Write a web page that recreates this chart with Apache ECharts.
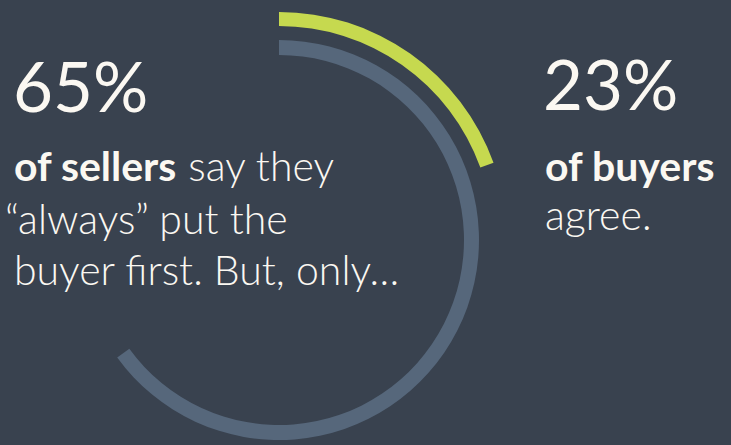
<!DOCTYPE html>
<html>
<head>
<meta charset="utf-8">
<script src="https://cdn.jsdelivr.net/npm/echarts@6/dist/echarts.min.js"></script>
<style>
html,body{margin:0;padding:0;background:#39424f;}
#chart{width:731px;height:445px;}
</style>
</head>
<body>
<div id="chart"></div>
<script>
// ---- data ----
var groups = ['sellers', 'buyers'];
var statLabels = ['65%', '23%'];
var arcShare = [65, 19.5];          // share of the full circle that each arc spans, as drawn
var leftLines = ['of sellers', ' say they', '\u201Calways\u201D put the', 'buyer first. But, only\u2026'];
var rightLines = ['of buyers', 'agree.'];

var BG = '#39424f', GREY = '#56677b', GREEN = '#c6d94f', TXT = '#fbf8f2';
var FONT = 'Lato, "Open Sans", sans-serif';
var BIG = 69, MID = 41;

var chart = echarts.init(document.getElementById('chart'), null, {renderer: 'svg'});

function arc(name, value, radius, color) {
  return {
    type: 'pie', name: name, center: [279, 240], radius: radius,
    startAngle: 90, clockwise: true, silent: true,
    label: {show: false}, labelLine: {show: false},
    emphasis: {disabled: true},
    itemStyle: {borderWidth: 0},
    animation: false,
    data: [
      {value: value, name: name, itemStyle: {color: color}},
      {value: 100 - value, name: 'rest', itemStyle: {color: 'transparent'}}
    ]
  };
}

function txt(x, y, text, size, weight, rich) {
  var s = {x: x, y: y, text: text, fill: TXT, font: weight + ' ' + size + 'px ' + FONT,
           verticalAlign: 'middle', align: 'left'};
  if (rich) s.rich = rich;
  return {type: 'text', style: s, silent: true};
}

var mixRich = {
  b: {fontFamily: FONT, fontSize: MID, fontWeight: 700, color: TXT},
  l: {fontFamily: FONT, fontSize: MID, fontWeight: 300, color: TXT}
};

chart.setOption({
  backgroundColor: BG,
  series: [
    arc(groups[0], arcShare[0], [185, 200], GREY),
    arc(groups[1], arcShare[1], [214, 228], GREEN)
  ],
  graphic: [
    txt(13, 85, statLabels[0], BIG, 400),
    txt(14, 165, '{b|' + leftLines[0] + '}{l|' + leftLines[1] + '}', MID, 300, mixRich),
    txt(5, 218, leftLines[2], MID, 300),
    txt(14, 269, leftLines[3], MID, 300),
    txt(543, 83, statLabels[1], BIG, 400),
    txt(545, 165, rightLines[0], MID, 700),
    txt(545, 214, rightLines[1], MID, 300)
  ]
});
</script>
</body>
</html>
